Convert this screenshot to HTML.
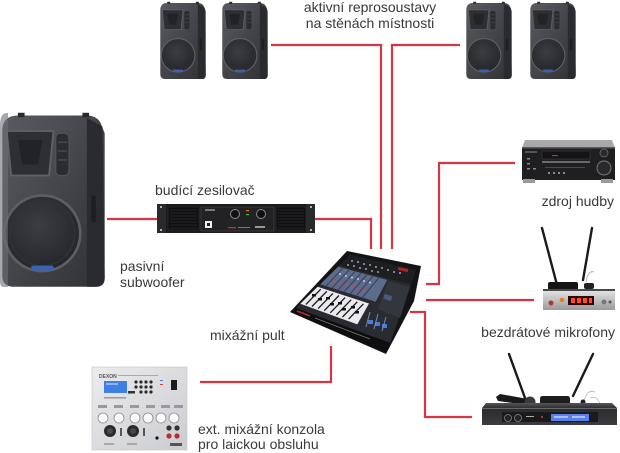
<!DOCTYPE html>
<html>
<head>
<meta charset="utf-8">
<style>
html,body{margin:0;padding:0;background:#fff;}
body{width:620px;height:453px;overflow:hidden;position:relative;}
svg{position:absolute;left:0;top:0;}
text{font-family:"Liberation Sans",Arial,sans-serif;font-size:14px;fill:#3a3a3a;}
</style>
</head>
<body>
<svg width="620" height="453" viewBox="0 0 620 453" xmlns="http://www.w3.org/2000/svg">
<defs>
  <linearGradient id="spkFront" x1="0" y1="0" x2="1" y2="1">
    <stop offset="0" stop-color="#5a5b60"/>
    <stop offset="0.5" stop-color="#44454a"/>
    <stop offset="1" stop-color="#303135"/>
  </linearGradient>
  <radialGradient id="woof" cx="0.45" cy="0.4" r="0.6">
    <stop offset="0" stop-color="#3c3d42"/>
    <stop offset="1" stop-color="#25262a"/>
  </radialGradient>
  <linearGradient id="silver" x1="0" y1="0" x2="0" y2="1">
    <stop offset="0" stop-color="#e2e2e2"/>
    <stop offset="1" stop-color="#9a9a9c"/>
  </linearGradient>
  <linearGradient id="panel" x1="0" y1="0" x2="1" y2="1">
    <stop offset="0" stop-color="#ececee"/>
    <stop offset="1" stop-color="#cbccd0"/>
  </linearGradient>
  <linearGradient id="rcv2" x1="0" y1="0" x2="0" y2="1">
    <stop offset="0" stop-color="#55565a"/>
    <stop offset="0.25" stop-color="#2a2b2e"/>
    <stop offset="1" stop-color="#3b3c40"/>
  </linearGradient>
  <symbol id="spk" viewBox="0 0 48 80">
    <path d="M1,9 Q1,2 8,2 L39,2 Q43,2 45,5 L47,10 L47,75 Q47,79 43,79 L6,79 Q1,79 1,74 Z" fill="url(#spkFront)"/>
    <path d="M39,3 L46,7 L47,75 Q47,79 43,79 L39,79 Z" fill="#2a2b2e"/>
    <rect x="8" y="0.8" width="3" height="2" fill="#2a2a2a"/>
    <rect x="37" y="0.8" width="3" height="2" fill="#2a2a2a"/>
    <polygon points="3,9 24,9 22,29 5,29" fill="#2e2f33" stroke="#606166" stroke-width="0.8"/>
    <polygon points="8,13 19,13 17,24 10,24" fill="#222327"/>
    <rect x="25" y="10" width="6" height="19" rx="2" fill="#2b2c2f" stroke="#515257" stroke-width="0.6"/>
    <line x1="26" y1="14" x2="30" y2="14" stroke="#4c4d52" stroke-width="0.6"/>
    <line x1="26" y1="18" x2="30" y2="18" stroke="#4c4d52" stroke-width="0.6"/>
    <line x1="26" y1="22" x2="30" y2="22" stroke="#4c4d52" stroke-width="0.6"/>
    <circle cx="19" cy="55" r="17" fill="url(#woof)" stroke="#5e5f64" stroke-width="1.2"/>
    <circle cx="19" cy="55" r="14.5" fill="none" stroke="#323337" stroke-width="0.6"/>
    <rect x="14" y="69.5" width="10" height="2.2" rx="0.5" fill="#3a62b4"/>
    <rect x="41" y="38" width="2" height="12" fill="#1e1e20"/>
  </symbol>
</defs>

<!-- connector lines -->
<g fill="none" stroke="#d6363f" stroke-width="2.2" stroke-linejoin="miter">
  <polyline points="271,45 381,45 381,249"/>
  <polyline points="460,45 392,45 392,249"/>
  <polyline points="107,219 157,219"/>
  <polyline points="315,219 371,219 371,249"/>
  <polyline points="426,284 439,284 439,163 515,163"/>
  <polyline points="426,300 534,300"/>
  <polyline points="410,312 425,312 425,417 472,417"/>
  <polyline points="200,382 331,382 331,346"/>
</g>

<!-- top speakers -->
<use href="#spk" x="159" y="1" width="48" height="79"/>
<use href="#spk" x="221" y="1" width="48" height="79"/>
<use href="#spk" x="465" y="1" width="48" height="79"/>
<use href="#spk" x="529" y="1" width="48" height="79"/>

<!-- subwoofer -->
<use href="#spk" x="0" y="111" width="107" height="178" preserveAspectRatio="none"/>
<path d="M0,125 Q0,114 6,113 L8,113 L8,287 L4,287 Q0,287 0,282 Z" fill="#6e6f74" opacity="0.6"/>

<!-- amplifier -->
<g>
  <rect x="157" y="204" width="158" height="29" fill="#1b1b1d"/>
  <rect x="157" y="204" width="9" height="29" fill="#2a2a2d"/>
  <rect x="306" y="204" width="9" height="29" fill="#2a2a2d"/>
  <circle cx="161" cy="207" r="1" fill="#ddd"/><circle cx="161" cy="230" r="1" fill="#ddd"/>
  <circle cx="311" cy="207" r="1" fill="#ddd"/><circle cx="311" cy="230" r="1" fill="#ddd"/>
  <rect x="168" y="207" width="31" height="23" rx="2" fill="#101012" stroke="#333" stroke-width="0.6"/>
  <rect x="276" y="207" width="30" height="23" rx="2" fill="#101012" stroke="#333" stroke-width="0.6"/>
  <g stroke="#2d2d30" stroke-width="0.7">
    <line x1="170" y1="210" x2="197" y2="210"/><line x1="170" y1="213" x2="197" y2="213"/>
    <line x1="170" y1="216" x2="197" y2="216"/><line x1="170" y1="219" x2="197" y2="219"/>
    <line x1="170" y1="222" x2="197" y2="222"/><line x1="170" y1="225" x2="197" y2="225"/>
    <line x1="170" y1="228" x2="197" y2="228"/>
    <line x1="278" y1="210" x2="304" y2="210"/><line x1="278" y1="213" x2="304" y2="213"/>
    <line x1="278" y1="216" x2="304" y2="216"/><line x1="278" y1="219" x2="304" y2="219"/>
    <line x1="278" y1="222" x2="304" y2="222"/><line x1="278" y1="225" x2="304" y2="225"/>
    <line x1="278" y1="228" x2="304" y2="228"/>
  </g>
  <rect x="201" y="207" width="73" height="24" fill="#222225" stroke="#4a4a4e" stroke-width="0.6"/>
  <rect x="205" y="209" width="10" height="2" fill="#777"/>
  <circle cx="235" cy="214" r="4.5" fill="#111" stroke="#8a8a8e" stroke-width="1"/>
  <circle cx="261" cy="214" r="4.5" fill="#111" stroke="#8a8a8e" stroke-width="1"/>
  <rect x="246" y="210" width="3" height="1.2" fill="#e07a20"/>
  <rect x="246" y="214" width="3" height="1.2" fill="#3fb04a"/>
  <rect x="205" y="221" width="7" height="7" fill="#eee"/>
  <rect x="207" y="223" width="3" height="3" fill="#222"/>
  <rect x="228" y="227" width="8" height="1.3" fill="#c03030"/>
  <rect x="238" y="227" width="12" height="1" fill="#777"/>
  <rect x="255" y="226" width="10" height="2" fill="#999"/>
</g>

<!-- mixer -->
<g>
  <polygon points="347,251 421,266 414,301 386,354 290,312" fill="#141416"/>
  <polygon points="350,255 416,270 390,343 296,308" fill="#2a2b30"/>
  <polygon points="350,255 416,270 410.8,284.6 339.2,265.6" fill="#1e1f23"/>
  <g fill="#c9c9cf">
    <circle cx="352" cy="261" r="0.9"/><circle cx="358" cy="262" r="0.9"/><circle cx="364" cy="264" r="0.9"/>
    <circle cx="370" cy="265" r="0.9"/><circle cx="376" cy="267" r="0.9"/><circle cx="382" cy="268" r="0.9"/>
    <circle cx="388" cy="270" r="0.9"/><circle cx="348" cy="265" r="0.9"/><circle cx="354" cy="266" r="0.9"/>
    <circle cx="360" cy="268" r="0.9"/><circle cx="366" cy="269" r="0.9"/><circle cx="372" cy="271" r="0.9"/>
    <circle cx="378" cy="272" r="0.9"/><circle cx="394" cy="272" r="0.9"/><circle cx="400" cy="273" r="0.9"/>
  </g>
  <rect x="398" y="268" width="10" height="3" fill="#b02020" transform="rotate(13 403 270)"/>
  <polygon points="338.1,266.7 387.2,279.9 375.6,301.8 320.3,284.2" fill="#5d6c8c"/>
  <g stroke="#3a4560" stroke-width="1.2">
    <line x1="343" y1="268" x2="326" y2="286"/><line x1="349" y1="270" x2="332" y2="288"/>
    <line x1="355" y1="271.5" x2="338" y2="290"/><line x1="361" y1="273" x2="344" y2="292"/>
    <line x1="367" y1="274.5" x2="350" y2="294"/><line x1="373" y1="276" x2="356" y2="296"/>
    <line x1="379" y1="277.5" x2="362" y2="298"/>
  </g>
  <g fill="#e04040">
    <circle cx="334" cy="281" r="1"/><circle cx="340" cy="283" r="1"/><circle cx="346" cy="285" r="1"/>
    <circle cx="352" cy="287" r="1"/><circle cx="358" cy="289" r="1"/><circle cx="364" cy="291" r="1"/>
  </g>
  <g fill="#e6e6ea">
    <circle cx="340" cy="274" r="0.9"/><circle cx="346" cy="276" r="0.9"/><circle cx="352" cy="277.5" r="0.9"/>
    <circle cx="358" cy="279" r="0.9"/><circle cx="364" cy="281" r="0.9"/><circle cx="370" cy="282.5" r="0.9"/>
  </g>
  <polygon points="388,281 410,287 400,318 378,309" fill="#34363d"/>
  <rect x="384" y="295" width="8" height="5" fill="#4a5a7a" transform="rotate(18 388 297)"/>
  <polygon points="317.6,286.8 369,303.5 357.3,324.4 300.3,303.8" fill="#e9e9ee"/>
  <g stroke="#1a1a1a" stroke-width="1.3">
    <line x1="320.7" y1="289.2" x2="305.9" y2="304.4"/>
    <line x1="326.8" y1="291.3" x2="312" y2="306.5"/>
    <line x1="332.9" y1="293.4" x2="318.1" y2="308.6"/>
    <line x1="339" y1="295.5" x2="324.2" y2="310.7"/>
    <line x1="345.1" y1="297.6" x2="330.3" y2="312.8"/>
    <line x1="351.2" y1="299.7" x2="336.4" y2="314.9"/>
    <line x1="357.3" y1="301.8" x2="342.5" y2="317"/>
    <line x1="363.4" y1="303.9" x2="348.6" y2="319.1"/>
  </g>
  <g fill="#111">
    <rect x="312" y="294" width="4" height="2.5"/><rect x="318" y="298" width="4" height="2.5"/>
    <rect x="326" y="297" width="4" height="2.5"/><rect x="330" y="303" width="4" height="2.5"/>
    <rect x="338" y="302" width="4" height="2.5"/><rect x="342" y="308" width="4" height="2.5"/>
    <rect x="351" y="306" width="4" height="2.5"/><rect x="355" y="311" width="4" height="2.5"/>
  </g>
  <polygon points="372.1,308.5 394.8,316.1 387.5,335.5 362.7,326.5" fill="#2a2c34"/>
  <g fill="#4a7ad8">
    <rect x="368" y="320" width="5" height="4"/><rect x="375" y="322" width="5" height="4"/>
    <rect x="382" y="324" width="5" height="4"/>
  </g>
  <line x1="370" y1="312" x2="366" y2="327" stroke="#7a8aa8" stroke-width="1"/>
  <line x1="378" y1="314" x2="374" y2="329" stroke="#7a8aa8" stroke-width="1"/>
  <line x1="386" y1="317" x2="382" y2="331" stroke="#7a8aa8" stroke-width="1"/>
  <polygon points="296,308 390,343 386,353 291,312" fill="#0e0e10"/>
  <line x1="297" y1="311" x2="310" y2="316" stroke="#c02828" stroke-width="1.5"/>
  <line x1="315" y1="318" x2="370" y2="339" stroke="#777" stroke-width="0.7"/>
</g>

<!-- music source receiver -->
<g>
  <polygon points="525,140 612,140 615,148 522,148" fill="#a8a8aa"/>
  <rect x="522" y="147" width="93" height="33" fill="#1f1f21"/>
  <rect x="522" y="147" width="93" height="1.5" fill="#5a5a5c"/>
  <rect x="525" y="151" width="12" height="2" fill="#555"/>
  <rect x="542" y="151" width="48" height="8" fill="#141416" stroke="#3d3d40" stroke-width="0.6"/>
  <rect x="552" y="155" width="6" height="1.2" fill="#c03030"/>
  <rect x="542" y="161" width="48" height="2" fill="#6b6b6e"/>
  <rect x="545" y="167" width="40" height="1" fill="#4a4a4d"/>
  <g fill="#8a8a8d">
    <rect x="527" y="158" width="3" height="1.5"/><rect x="527" y="163" width="3" height="1.5"/>
    <rect x="527" y="168" width="3" height="1.5"/><rect x="533" y="168" width="3" height="1.5"/>
    <rect x="548" y="172" width="2" height="2"/><rect x="553" y="172" width="2" height="2"/>
    <rect x="558" y="172" width="2" height="2"/><rect x="563" y="172" width="2" height="2"/>
  </g>
  <circle cx="604" cy="168" r="7" fill="#2a2a2c" stroke="#7a7a7d" stroke-width="1"/>
  <circle cx="604" cy="153" r="4" fill="#2a2a2c" stroke="#6a6a6d" stroke-width="0.8"/>
  <rect x="523" y="179" width="12" height="4" fill="#9a9a9c"/>
  <rect x="601" y="179" width="12" height="4" fill="#9a9a9c"/>
</g>

<!-- wireless mic receiver (silver) -->
<g>
  <line x1="542" y1="228" x2="557" y2="285" stroke="#1a1a1a" stroke-width="2.4" stroke-linecap="round"/>
  <line x1="592" y1="228" x2="583" y2="280" stroke="#1a1a1a" stroke-width="2.4" stroke-linecap="round"/>
  <path d="M586,282 Q588,270 594,272" fill="none" stroke="#aaa" stroke-width="0.8"/>
  <rect x="548" y="282" width="30" height="8" rx="2" fill="#151515"/>
  <rect x="584" y="283" width="10" height="6" rx="2" fill="#222"/>
  <rect x="543" y="289" width="72" height="3" fill="#4a4a4c"/>
  <rect x="543" y="291" width="72" height="19" fill="url(#silver)"/>
  <rect x="568" y="296" width="26" height="9" fill="#2a0808"/>
  <g fill="#ff4a2e">
    <rect x="571" y="298" width="4" height="5"/><rect x="577" y="298" width="4" height="5"/>
    <rect x="583" y="298" width="4" height="5"/><rect x="589" y="298" width="3" height="5"/>
  </g>
  <circle cx="562" cy="300" r="2.3" fill="#f07a1a"/>
  <circle cx="551" cy="303" r="2.5" fill="#b83030" stroke="#888" stroke-width="0.5"/>
  <circle cx="604" cy="302" r="2.5" fill="#777"/>
  <circle cx="610" cy="302" r="1.5" fill="#555"/>
</g>

<!-- wireless mic receiver (black) -->
<g>
  <line x1="509" y1="354" x2="525" y2="398" stroke="#1a1a1a" stroke-width="2.4" stroke-linecap="round"/>
  <line x1="593" y1="354" x2="573" y2="396" stroke="#1a1a1a" stroke-width="2.4" stroke-linecap="round"/>
  <polygon points="496,397 500,394 528,399 527,405 498,401" fill="#1a1a1a"/>
  <circle cx="530" cy="402" r="5.5" fill="#3a3a3c"/>
  <rect x="540" y="396" width="30" height="9" rx="2.5" fill="#1d1d1f"/>
  <path d="M584,402 Q586,389 595,392" fill="none" stroke="#b5b5b5" stroke-width="0.8"/>
  <circle cx="583" cy="402" r="2.5" fill="#222"/>
  <path d="M590,398 Q598,395 600,405" fill="none" stroke="#c0c0c0" stroke-width="0.8"/>
  <polygon points="486,403 612,403 617,408 617,425 482,425 482,408" fill="url(#rcv2)"/>
  <rect x="482" y="408" width="135" height="0.8" fill="#777"/>
  <rect x="502" y="412" width="96" height="10" fill="#1a1a1c"/>
  <circle cx="508" cy="418" r="3.5" fill="#222" stroke="#888" stroke-width="0.8"/>
  <circle cx="518" cy="418" r="3.5" fill="#222" stroke="#888" stroke-width="0.8"/>
  <rect x="526" y="416" width="8" height="1" fill="#aaa"/>
  <circle cx="542" cy="417" r="1" fill="#d84030"/>
  <rect x="551" y="414" width="38" height="7" fill="#5a80ee"/>
  <rect x="554" y="416" width="14" height="2" fill="#a8c0ff"/>
  <rect x="572" y="416" width="13" height="2" fill="#a8c0ff"/>
</g>

<!-- external console panel -->
<g>
  <rect x="92" y="367" width="95" height="83" fill="url(#panel)" stroke="#c4c4c8" stroke-width="0.6"/>
  <text x="99" y="378" style="font-size:5px;font-weight:bold;fill:#555">DEXON</text>
  <rect x="118" y="375" width="40" height="1" fill="#aaa"/>
  <rect x="104" y="381" width="23" height="12" fill="#3f80e2"/>
  <rect x="106" y="383" width="12" height="2" fill="#8ab4ff"/>
  <g fill="#2a2a2c">
    <circle cx="136" cy="382" r="1.6"/><circle cx="141" cy="382" r="1.6"/><circle cx="146" cy="382" r="1.6"/><circle cx="151" cy="382" r="1.6"/>
    <circle cx="136" cy="387" r="1.6"/><circle cx="141" cy="387" r="1.6"/><circle cx="146" cy="387" r="1.6"/><circle cx="151" cy="387" r="1.6"/>
    <circle cx="141" cy="392" r="1.6"/><circle cx="146" cy="392" r="1.6"/><circle cx="151" cy="392" r="1.6"/>
  </g>
  <rect x="128" y="391" width="7" height="2.5" fill="#333"/>
  <rect x="171" y="380" width="6" height="10" fill="#1b1b1b"/>
  <rect x="160" y="380" width="3" height="1" fill="#5a7ad0"/>
  <rect x="160" y="384" width="3" height="1" fill="#d04040"/>
  <rect x="104" y="397" width="22" height="1.5" fill="#999"/>
  <g fill="#9a9a9e">
    <rect x="98" y="405" width="9" height="3"/><rect x="114" y="405" width="9" height="3"/>
    <rect x="130" y="405" width="9" height="3"/><rect x="146" y="405" width="9" height="3"/>
    <rect x="161" y="405" width="9" height="3"/><rect x="174" y="405" width="9" height="3"/>
  </g>
  <g fill="#fafafa" stroke="#8e8e92" stroke-width="0.8">
    <circle cx="103" cy="418" r="5"/><circle cx="119" cy="418" r="5"/><circle cx="135" cy="418" r="5"/>
    <circle cx="148" cy="418" r="5"/><circle cx="161" cy="418" r="5"/><circle cx="174" cy="418" r="5"/>
  </g>
  <circle cx="110" cy="431" r="6" fill="#2a2a2c"/>
  <circle cx="133" cy="431" r="6" fill="#2a2a2c"/>
  <circle cx="110" cy="431" r="3" fill="#4a4a4e"/>
  <circle cx="133" cy="431" r="3" fill="#4a4a4e"/>
  <rect x="120" y="428" width="2" height="8" fill="#555"/>
  <rect x="143" y="428" width="2" height="8" fill="#555"/>
  <circle cx="157" cy="438" r="1.6" fill="#111"/>
  <circle cx="169" cy="428" r="2.6" fill="#333"/><circle cx="177" cy="428" r="2.6" fill="#333"/>
  <circle cx="169" cy="436" r="2.6" fill="#b03030"/><circle cx="177" cy="436" r="2.6" fill="#b03030"/>
  <rect x="104" y="443" width="10" height="2" fill="#aaa"/>
  <rect x="127" y="443" width="10" height="2" fill="#aaa"/>
  <rect x="170" y="443" width="12" height="3" fill="#555"/>
</g>

<!-- labels -->
<text x="370" y="12" text-anchor="middle">aktivní reprosoustavy</text>
<text x="370" y="28" text-anchor="middle">na stěnách místnosti</text>
<text x="155" y="195">budící zesilovač</text>
<text x="120" y="271">pasivní</text>
<text x="120" y="287">subwoofer</text>
<text x="210" y="340">mixážní pult</text>
<text x="614" y="206" text-anchor="end">zdroj hudby</text>
<text x="615" y="337" text-anchor="end">bezdrátové mikrofony</text>
<text x="198" y="434">ext. mixážní konzola</text>
<text x="198" y="449">pro laickou obsluhu</text>
</svg>
</body>
</html>
